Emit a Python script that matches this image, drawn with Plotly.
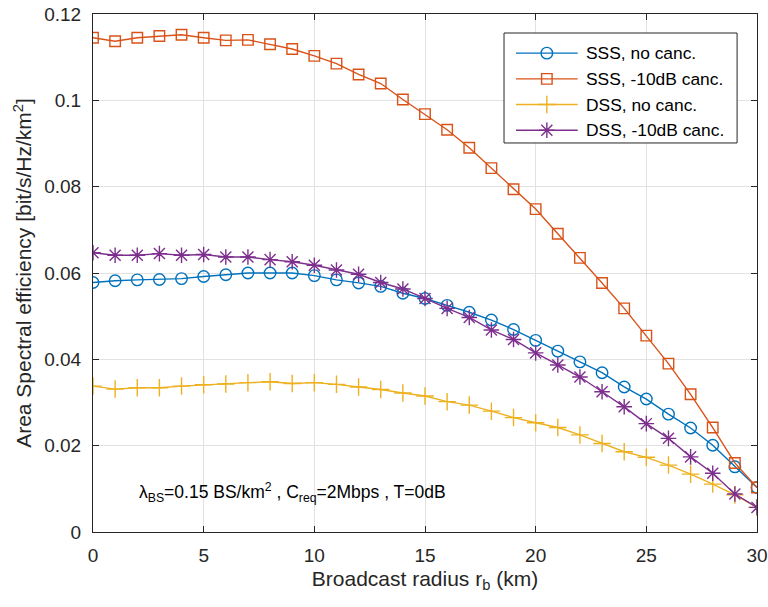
import plotly.graph_objects as go

# Broadcast radius (km)
radius_km = list(range(0, 31))

# Area spectral efficiency [bit/s/Hz/km^2]
sss_no_canc = [0.0578, 0.0582, 0.0584, 0.0585, 0.0587, 0.0592, 0.0596, 0.0600, 0.0600, 0.0600,
               0.0594, 0.0584, 0.0577, 0.0569, 0.0553, 0.0541, 0.0525, 0.0509, 0.0491, 0.0469,
               0.0444, 0.0419, 0.0394, 0.0369, 0.0336, 0.0308, 0.0273, 0.0241, 0.0201, 0.0151,
               0.0103]
sss_10db_canc = [0.1145, 0.1137, 0.1145, 0.1149, 0.1152, 0.1145, 0.1139, 0.1140, 0.1130, 0.1119,
                 0.1103, 0.1085, 0.1060, 0.1039, 0.1002, 0.0968, 0.0932, 0.0890, 0.0843, 0.0794,
                 0.0748, 0.0691, 0.0635, 0.0577, 0.0518, 0.0455, 0.0390, 0.0319, 0.0242, 0.0160,
                 0.0103]
dss_no_canc = [0.0338, 0.0331, 0.0334, 0.0334, 0.0338, 0.0341, 0.0343, 0.0346, 0.0348, 0.0344,
               0.0346, 0.0342, 0.0336, 0.0330, 0.0322, 0.0315, 0.0302, 0.0294, 0.0280, 0.0265,
               0.0253, 0.0242, 0.0225, 0.0205, 0.0186, 0.0173, 0.0155, 0.0134, 0.0111, 0.0086,
               0.0057]
dss_10db_canc = [0.0647, 0.0641, 0.0641, 0.0645, 0.0641, 0.0643, 0.0637, 0.0637, 0.0631, 0.0626,
                 0.0618, 0.0607, 0.0597, 0.0578, 0.0563, 0.0541, 0.0518, 0.0497, 0.0468, 0.0446,
                 0.0415, 0.0387, 0.0359, 0.0325, 0.0290, 0.0251, 0.0217, 0.0174, 0.0136, 0.0088,
                 0.0057]

series_names = ["SSS, no canc.", "SSS, -10dB canc.", "DSS, no canc.", "DSS, -10dB canc."]
series_values = [sss_no_canc, sss_10db_canc, dss_no_canc, dss_10db_canc]
series_colors = ["#0072BD", "#D95319", "#EDB120", "#7E2F8E"]
series_symbols = ["circle-open", "square-open", "cross-thin-open", "asterisk-open"]
series_sizes = [11.5, 10.5, 12.5, 13]

x_ticks = [0, 5, 10, 15, 20, 25, 30]
y_ticks = [0, 0.02, 0.04, 0.06, 0.08, 0.1, 0.12]

FONT = "Liberation Sans, Arial, Helvetica, sans-serif"
AXIS_COLOR = "#262626"
GRID_COLOR = "#e2e2e2"
LINE_W = 1.4

fig = go.Figure()
for name, vals, color, sym, size in zip(series_names, series_values, series_colors,
                                        series_symbols, series_sizes):
    fig.add_trace(go.Scatter(
        x=radius_km, y=vals, name=name, showlegend=False,
        mode="lines+markers",
        line=dict(color=color, width=LINE_W),
        marker=dict(symbol=sym, size=size, color=color, line=dict(color=color, width=LINE_W)),
    ))

# Legend box drawn on a hidden overlay axis spanning the plot area (0..1 both ways),
# so that the key lines can be as long as in a MATLAB-style legend.
box_x0, box_x1 = 0.619, 0.970
box_y0, box_y1 = 0.751, 0.9633
key_x0, key_x1 = 0.637, 0.730
text_x = 0.7395
row_top, row_step = 0.9244, 0.0496

overlay = dict(xaxis="x2", yaxis="y2", showlegend=False, hoverinfo="skip")
fig.add_trace(go.Scatter(
    x=[box_x0, box_x1, box_x1, box_x0, box_x0], y=[box_y0, box_y0, box_y1, box_y1, box_y0],
    mode="lines", fill="toself", fillcolor="white",
    line=dict(color=AXIS_COLOR, width=1), **overlay,
))
for i, (name, color, sym, size) in enumerate(zip(series_names, series_colors,
                                                 series_symbols, series_sizes)):
    ry = row_top - i * row_step
    fig.add_trace(go.Scatter(
        x=[key_x0, key_x1], y=[ry, ry], mode="lines",
        line=dict(color=color, width=LINE_W), **overlay,
    ))
    fig.add_trace(go.Scatter(
        x=[(key_x0 + key_x1) / 2], y=[ry], mode="markers",
        marker=dict(symbol=sym, size=size, color=color, line=dict(color=color, width=LINE_W)),
        **overlay,
    ))
    fig.add_annotation(
        x=text_x, y=ry, xref="x2", yref="y2", xanchor="left", yanchor="middle",
        text=name, showarrow=False, font=dict(family=FONT, size=17.4, color="black"),
    )

fig.add_annotation(
    x=2.0, y=0.0092, xref="x", yref="y", xanchor="left", yanchor="middle",
    text="λ<sub>BS</sub>=0.15 BS/km<sup>2</sup> , C<sub>req</sub>=2Mbps , T=0dB",
    showarrow=False, font=dict(family=FONT, size=17.5, color="black"),
)

axis_common = dict(
    showline=True, linecolor=AXIS_COLOR, linewidth=1, mirror="ticks",
    ticks="inside", ticklen=6, tickcolor=AXIS_COLOR, tickwidth=1,
    showgrid=True, gridcolor=GRID_COLOR, gridwidth=1, zeroline=False,
    tickfont=dict(family=FONT, size=19, color=AXIS_COLOR),
    automargin=False,
)
hidden_axis = dict(range=[0, 1], visible=False, showgrid=False, zeroline=False,
                   fixedrange=True, automargin=False)

fig.update_layout(
    width=768, height=607,
    margin=dict(l=93, r=11, t=14, b=75),
    paper_bgcolor="white", plot_bgcolor="white",
    font=dict(family=FONT, color=AXIS_COLOR),
    showlegend=False,
    xaxis=dict(range=[0, 30], tickvals=x_ticks, ticklabelstandoff=6,
               title=dict(text="Broadcast radius r<sub>b</sub> (km)",
                          font=dict(family=FONT, size=21, color=AXIS_COLOR), standoff=6),
               **axis_common),
    yaxis=dict(range=[0, 0.12], tickvals=y_ticks, ticklabelstandoff=7,
               title=dict(text="Area Spectral efficiency [bit/s/Hz/km<sup>2</sup>]",
                          font=dict(family=FONT, size=21, color=AXIS_COLOR), standoff=6),
               **axis_common),
    xaxis2=dict(overlaying="x", **hidden_axis),
    yaxis2=dict(overlaying="y", **hidden_axis),
)

fig.write_html("out.html")
